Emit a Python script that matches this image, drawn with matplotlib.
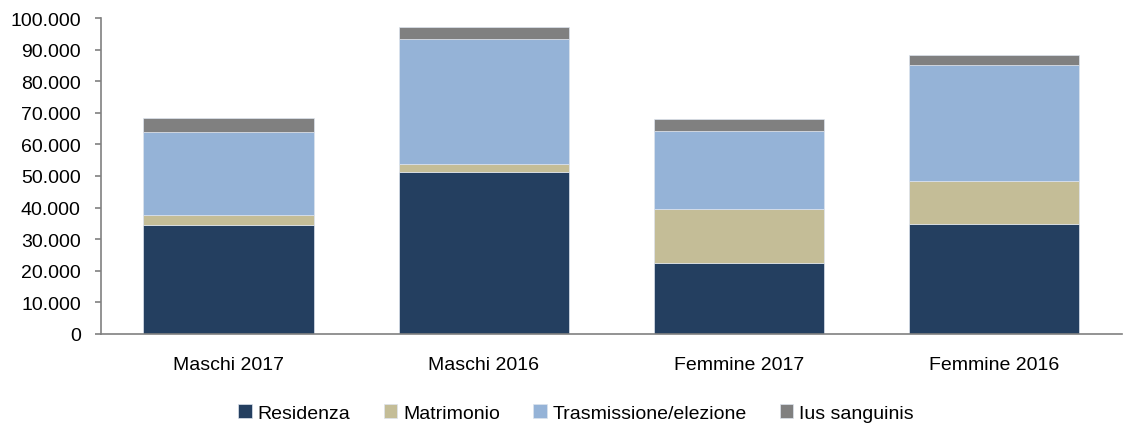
import numpy as np
import matplotlib.pyplot as plt
from matplotlib.ticker import FuncFormatter

plt.rcParams['font.family'] = ['Liberation Sans', 'DejaVu Sans']

categorie = ['Maschi 2017', 'Maschi 2016', 'Femmine 2017', 'Femmine 2016']
serie = ['Residenza', 'Matrimonio', 'Trasmissione/elezione', 'Ius sanguinis']
residenza = [34600, 51300, 22600, 34900]
matrimonio = [3100, 2400, 17000, 13500]
trasmissione = [26100, 39700, 24700, 36700]
ius_sanguinis = [4500, 3700, 3700, 3100]
colori = ['#243F60', '#C4BD97', '#95B3D7', '#808080']

valori = [residenza, matrimonio, trasmissione, ius_sanguinis]

fig = plt.figure(figsize=(11.23, 4.27), dpi=100)
ax = fig.add_axes([0.0899, 0.2155, 0.9088, 0.74])

x = np.arange(len(categorie))
base = np.zeros(len(categorie))
for nome, val, col in zip(serie, valori, colori):
    ax.bar(x, val, 0.667, bottom=base, color=col, label=nome,
           edgecolor='#dde4ee', linewidth=0.5)
    base += np.array(val)

ax.set_xlim(-0.5, len(categorie) - 0.5)
ax.set_ylim(0, 100000)
ax.set_yticks(np.arange(0, 100001, 10000))
ax.yaxis.set_major_formatter(FuncFormatter(lambda v, p: f'{int(v):,}'.replace(',', '.')))
ax.set_xticks(x)
ax.set_xticklabels(categorie)

for s in ['top', 'right']:
    ax.spines[s].set_visible(False)
for s in ['left', 'bottom']:
    ax.spines[s].set_color('#808080')
    ax.spines[s].set_linewidth(1.2)

ax.tick_params(axis='y', direction='out', length=4.5, width=1.2, color='#808080',
               labelsize=14, pad=10)
ax.tick_params(axis='x', length=0, labelsize=14, pad=16)

fig.legend(loc='center', bbox_to_anchor=(0.513, 0.03), ncol=4, frameon=False,
           fontsize=14, handlelength=0.7, handleheight=0.7, handletextpad=0.3,
           columnspacing=1.7)

fig.savefig('out.png', dpi=100)
